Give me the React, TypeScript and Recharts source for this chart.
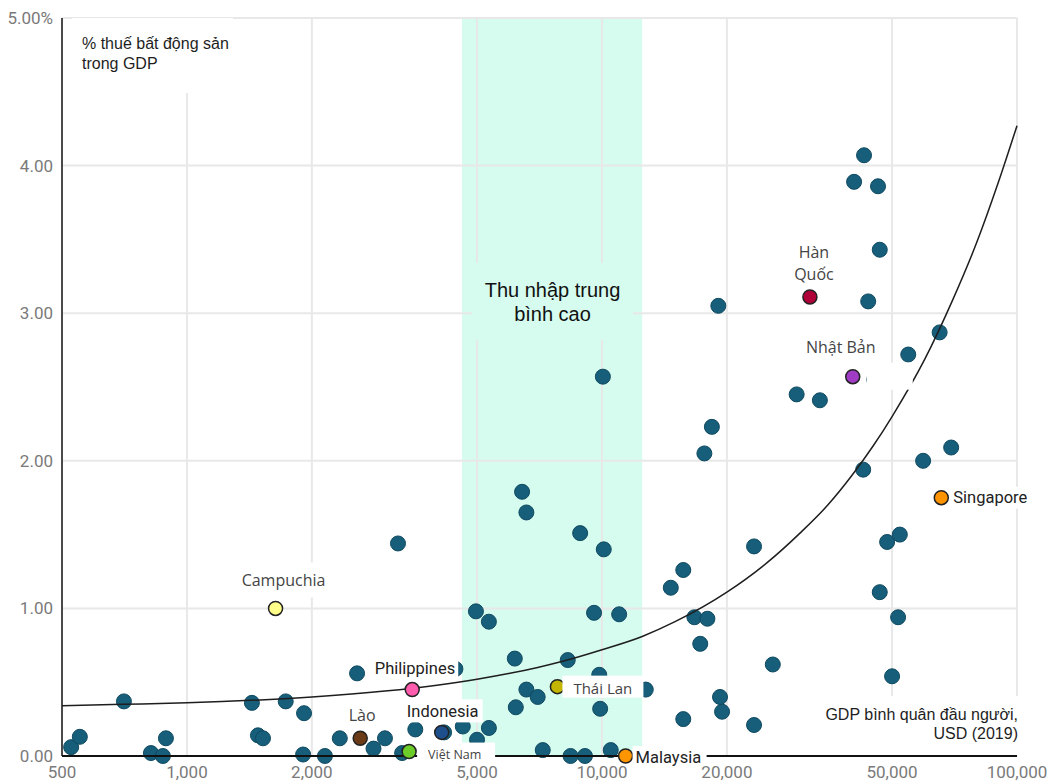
import {
  ComposedChart, Scatter, Line,
  XAxis, YAxis, CartesianGrid, ReferenceArea, ReferenceLine,
} from 'recharts'

// axis ticks
const xTicks = [500, 1000, 2000, 5000, 10000, 20000, 50000, 100000]
const yTicks = [0, 1, 2, 3, 4, 5]

// upper-middle income band (GDP per capita, USD)
const upperMiddle = [4600, 12500]

// other economies: GDP per capita (USD 2019) and property tax (% of GDP)
const otherGdp = [
  526, 552, 705, 819, 875, 890, 1434, 1483, 1525, 1730, 1915, 1905, 2150, 2335, 2570,
  2815, 3000, 3225, 3300, 3550, 4165, 4435, 4620, 4970, 5000, 5340, 5340, 6165, 6200,
  6420, 6575, 6575, 7000, 7200, 8270, 8400, 8860, 9100, 9570, 9850, 9900, 10050, 10100,
  10500, 11000, 12750, 14650, 15700, 15700, 16700, 17250, 17650, 17950, 18400, 19070,
  19250, 19470, 23250, 23250, 25800, 29450, 33500, 40500, 42600, 42800, 43800, 45300,
  46250, 46700, 46700, 48650, 50000, 51700, 52200, 54700, 59400, 65100, 69400,
]
const otherTax = [
  0.06, 0.13, 0.37, 0.02, 0.0, 0.12, 0.36, 0.14, 0.12, 0.37, 0.29, 0.01, 0.0, 0.12, 0.56,
  0.05, 0.12, 1.44, 0.02, 0.18, 0.16, 0.59, 0.2, 0.98, 0.11, 0.91, 0.19, 0.66, 0.33,
  1.79, 1.65, 0.45, 0.4, 0.04, 0.65, 0.0, 1.51, 0.0, 0.97, 0.55, 0.32, 2.57, 1.4,
  0.04, 0.96, 0.45, 1.14, 1.26, 0.25, 0.94, 0.76, 2.05, 0.93, 2.23, 3.05,
  0.4, 0.3, 1.42, 0.21, 0.62, 2.45, 2.41, 3.89, 1.94, 4.07, 3.08, 2.55,
  3.86, 3.43, 1.11, 1.45, 0.54, 0.94, 1.5, 2.72, 2.0, 2.87, 2.09,
]

// highlighted economies
const highlightNames = ['Campuchia', 'Philippines', 'Lào', 'Indonesia', 'Việt Nam', 'Thái Lan', 'Malaysia', 'Hàn Quốc', 'Nhật Bản', 'Singapore']
const highlightGdp = [1635, 3490, 2615, 4110, 3430, 7810, 11400, 31700, 40200, 65700]
const highlightTax = [1.0, 0.45, 0.12, 0.16, 0.03, 0.47, 0.0, 3.11, 2.57, 1.75]

// trend line
const trendGdp = [500, 700, 1000, 1500, 2000, 3000, 4000, 5000, 6000, 7000, 8000, 10000, 12500, 15000, 20000, 25000, 30000, 35000, 40000, 45000, 50000, 60000, 70000, 80000, 90000, 100000]
const trendTax = [0.34, 0.35, 0.36, 0.38, 0.4, 0.44, 0.48, 0.52, 0.56, 0.6, 0.64, 0.72, 0.81, 0.91, 1.11, 1.31, 1.51, 1.7, 1.9, 2.1, 2.3, 2.69, 3.09, 3.48, 3.88, 4.27]

const others = otherGdp.map((x, i) => ({ x, y: otherTax[i] }))
const highlights = highlightNames.map((name, i) => ({ name, x: highlightGdp[i], y: highlightTax[i] }))
const trend = trendGdp.map((x, i) => ({ x, y: trendTax[i] }))

const DOT_COLORS: Record<string, string> = {
  'Campuchia': '#ffff8a',
  'Philippines': '#ff5cae',
  'Lào': '#6a3b16',
  'Indonesia': '#1d4f8c',
  'Việt Nam': '#6ccc2a',
  'Thái Lan': '#c4b600',
  'Malaysia': '#ff9500',
  'Hàn Quốc': '#b0003a',
  'Nhật Bản': '#a03cc4',
  'Singapore': '#ff9300',
}

const OPEN = '"Open Sans", sans-serif'
const ROBOTO = 'Roboto, sans-serif'
const ARIAL = '"Liberation Sans", Arial, sans-serif'
const BAND = '#d6fbef'

type LabelStyle = {
  lines: string[]; dx: number; dy: number; lh?: number
  anchor: 'start' | 'middle' | 'end'; font: string; size: number; color: string
  box?: [number, number, number, number]
}

const LABELS: Record<string, LabelStyle> = {
  'Campuchia': { lines: ['Campuchia'], dx: 8, dy: -28, anchor: 'middle', font: OPEN, size: 16, color: '#444', box: [-38, -46, 54, -11] },
  'Hàn Quốc': { lines: ['Hàn', 'Quốc'], dx: 4, dy: -45, lh: 22, anchor: 'middle', font: OPEN, size: 16, color: '#444' },
  'Nhật Bản': { lines: ['Nhật Bản'], dx: -12, dy: -30, anchor: 'middle', font: OPEN, size: 16, color: '#444', box: [14, -14, 60, 13] },
  'Lào': { lines: ['Lào'], dx: 2, dy: -23, anchor: 'middle', font: OPEN, size: 16, color: '#444' },
  'Philippines': { lines: ['Philippines'], dx: 43, dy: -21, anchor: 'end', font: ROBOTO, size: 16.5, color: '#222', box: [-46, -32, 46, -9] },
  'Indonesia': { lines: ['Indonesia'], dx: 1, dy: -21, anchor: 'middle', font: ROBOTO, size: 16.5, color: '#222', box: [-40, -33, 41, -10] },
  'Thái Lan': { lines: ['Thái Lan'], dx: 16, dy: 1, anchor: 'start', font: OPEN, size: 15, color: '#444', box: [5, -11, 86, 11] },
  'Việt Nam': { lines: ['Việt Nam'], dx: 19, dy: 2.5, anchor: 'start', font: OPEN, size: 12.5, color: '#444', box: [8, -9, 86, 11] },
  'Malaysia': { lines: ['Malaysia'], dx: 10, dy: 1, anchor: 'start', font: ROBOTO, size: 16.5, color: '#222', box: [7, -10, 81, 11] },
  'Singapore': { lines: ['Singapore'], dx: 12, dy: 0, anchor: 'start', font: ROBOTO, size: 16.5, color: '#222', box: [9, -11, 92, 11] },
}

function OtherDot(p: any) {
  if (p.cx == null) return null
  return <circle cx={p.cx} cy={p.cy} r={7.5} fill="#175e7a" stroke="#0f4a60" strokeWidth={1} />
}

function HighlightDot(p: any) {
  if (p.cx == null) return null
  return <circle cx={p.cx} cy={p.cy} r={7} fill={DOT_COLORS[p.payload.name]} stroke="#222" strokeWidth={1.5} />
}

function PointLabel(p: any) {
  const s = LABELS[p.payload?.name]
  if (!s || p.cx == null) return null
  const { cx, cy } = p
  return (
    <g>
      {s.box && (
        <rect x={cx + s.box[0]} y={cy + s.box[1]} width={s.box[2] - s.box[0]} height={s.box[3] - s.box[1]} fill="#fff" />
      )}
      {s.lines.map((t, i) => (
        <text key={i} x={cx + s.dx} y={cy + s.dy + i * (s.lh ?? 0)} textAnchor={s.anchor} dominantBaseline="central"
          fontFamily={s.font} fontSize={s.size} fill={s.color}>{t}</text>
      ))}
    </g>
  )
}

const TICK = { fill: '#7a7a7a', fontSize: 17, fontFamily: ROBOTO }

export default function App() {
  return (
    <div style={{ position: 'absolute', left: 0, top: 0, width: 1048, height: 782, background: '#fff' }}>
      <ComposedChart width={1048} height={782} margin={{ top: 18, right: 31, left: 0, bottom: 0 }}>
        <ReferenceArea x1={upperMiddle[0]} x2={upperMiddle[1]} y1={0} y2={5} fill={BAND} fillOpacity={1} stroke="none" zIndex={-150} />
        <CartesianGrid stroke="#e8e8e8" strokeWidth={2} zIndex={-100} />
        <XAxis dataKey="x" type="number" scale="log" domain={[500, 100000]} ticks={xTicks}
          axisLine={false} tickLine={false} tickSize={0} tickMargin={10} height={26} tick={TICK}
          tickFormatter={(v: number) => v.toLocaleString('en-US')} />
        <YAxis dataKey="y" type="number" domain={[0, 5]} ticks={yTicks}
          axisLine={{ stroke: '#4a4a4a', strokeWidth: 2 }} tickLine={false} tickSize={0} tickMargin={9} width={62} tick={TICK}
          tickFormatter={(v: number) => (v === 5 ? '5.00%' : v.toFixed(2))} />
        <Scatter data={others} shape={OtherDot} isAnimationActive={false} zIndex={600} />
        <Line data={trend} dataKey="y" type="monotone" stroke="#1e1e1e" strokeWidth={1.5} dot={false} activeDot={false}
          isAnimationActive={false} zIndex={650} />
        <ReferenceLine y={0} stroke="#111" strokeWidth={2} zIndex={660} />
        <Scatter data={highlights} shape={HighlightDot} isAnimationActive={false} zIndex={700} />
        <Scatter data={highlights} shape={PointLabel} isAnimationActive={false} zIndex={800} />
      </ComposedChart>

      <div style={{ position: 'absolute', left: 72, top: 18, width: 161, height: 75, background: '#fff' }}>
        <div style={{ paddingLeft: 10, paddingTop: 16, fontFamily: ARIAL, fontSize: 16, lineHeight: '20px', color: '#1e1e1e', whiteSpace: 'nowrap' }}>
          % thuế bất động sản<br />trong GDP
        </div>
      </div>

      <div style={{ position: 'absolute', left: 472, top: 263, width: 161, height: 77, background: BAND }}>
        <div style={{ paddingTop: 15, textAlign: 'center', fontFamily: ARIAL, fontSize: 20, lineHeight: '24px', color: '#111', whiteSpace: 'nowrap' }}>
          Thu nhập trung<br />bình cao
        </div>
      </div>

      <div style={{ position: 'absolute', left: 816, top: 696, width: 204, height: 59, background: '#fff' }}>
        <div style={{ paddingTop: 9, paddingRight: 2, textAlign: 'right', fontFamily: ARIAL, fontSize: 16, lineHeight: '19px', color: '#1e1e1e', whiteSpace: 'nowrap' }}>
          GDP bình quân đầu người,<br />USD (2019)
        </div>
      </div>
    </div>
  )
}
